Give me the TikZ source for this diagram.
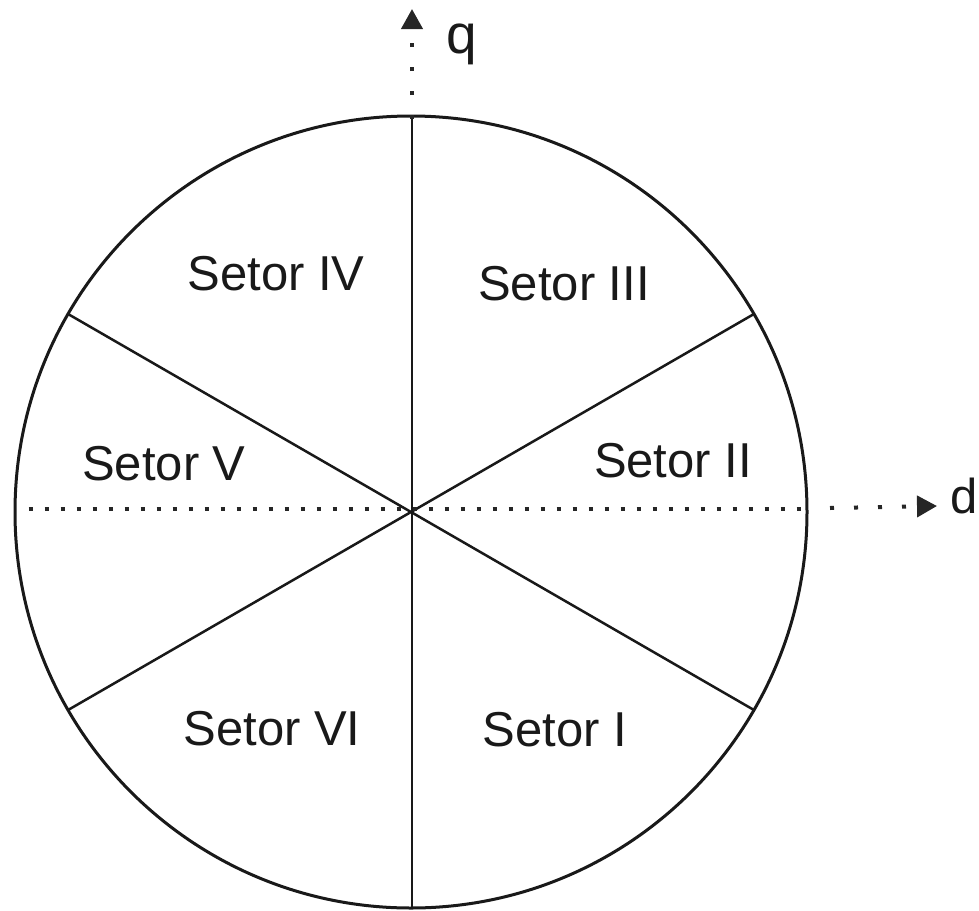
\documentclass[tikz,border=0pt]{standalone}
\usepackage{fontspec}
\setmainfont{Liberation Sans}
\usetikzlibrary{arrows.meta}
\tikzset{
  lbl/.style={anchor=base, inner sep=0pt, font=\fontsize{49}{58}\selectfont, text=black!90},
  edge/.style={line width=2.5pt, draw=black!90},
  rim/.style={line width=3pt, draw=black!90},
  dotsin/.style={line width=4pt, draw=black!85, dash pattern=on 4pt off 12pt},
  dotsout/.style={line width=4pt, draw=black!85, dash pattern=on 4pt off 20pt,
    -{Triangle[length=20pt 0 0,width=21pt 0 0]}},
}
\begin{document}
\begin{tikzpicture}[x=1pt,y=-1pt]
\useasboundingbox (0,0) rectangle (979,910);
% centre and circle
\coordinate (O) at (411,512);
\node[circle, minimum size=792pt, inner sep=0pt, rim] (C) at (O) {};
% radial lines
\coordinate (T) at (412,117);
\coordinate (B) at (412,908);
\path (O) ++(30:396) coordinate (URa);
\path (O) ++(150:396) coordinate (ULa);
\path (O) ++(210:396) coordinate (LLa);
\path (O) ++(330:396) coordinate (LRa);
\draw[edge] (T) -- (B);
\draw[edge] (ULa) -- (LRa);
\draw[edge] (LLa) -- (URa);
% d axis
\coordinate (dA) at (28.7,509);
\coordinate (dB) at (807,509);
\coordinate (dC) at (830,508);
\coordinate (dTip) at (937,506);
\draw[dotsin] (dA) -- (dB);
\draw[dotsout] (dC) -- (dTip);
% q axis
\coordinate (qA) at (412,119);
\coordinate (qTip) at (412,9);
\draw[dotsout] (qA) -- (qTip);
% labels
\node[lbl, anchor=base west, font=\fontsize{55}{64}\selectfont] (q) at (446,53) {q};
\node[lbl, anchor=base west] (d) at (950,513) {d};
\node[lbl] (s4) at (276,290) {Setor IV};
\node[lbl] (s3) at (564,300) {Setor III};
\node[lbl] (s2) at (673,477) {Setor II};
\node[lbl] (s5) at (164,480) {Setor V};
\node[lbl] (s6) at (272,745) {Setor VI};
\node[lbl] (s1) at (555,746) {Setor I};
\end{tikzpicture}
\end{document}
